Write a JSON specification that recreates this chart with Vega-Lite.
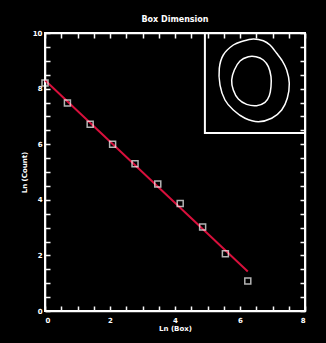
{
  "$schema": "https://vega.github.io/schema/vega-lite/v6.json",
  "width": 260,
  "height": 278,
  "autosize": {"type": "none"},
  "padding": {"left": 45, "top": 33, "right": 21, "bottom": 32},
  "background": "black",
  "title": {"text": "Box Dimension", "color": "white", "fontSize": 8, "font": "DejaVu Sans", "fontWeight": "bold", "offset": 5},
  "config": {
    "view": {"stroke": "white", "strokeWidth": 2},
    "axis": {"grid": false, "domainColor": "white", "labelColor": "white", "titleColor": "white", "labelFont": "DejaVu Sans", "titleFont": "DejaVu Sans", "labelFontSize": 7, "titleFontSize": 7, "labelFontWeight": "bold", "titleFontWeight": "bold", "domainWidth": 1.5}
  },
  "datasets": {
    "pts": [
      {"lnbox": 0, "lncount": 8.2},
      {"lnbox": 0.69, "lncount": 7.48},
      {"lnbox": 1.39, "lncount": 6.72},
      {"lnbox": 2.08, "lncount": 6.0},
      {"lnbox": 2.77, "lncount": 5.3},
      {"lnbox": 3.47, "lncount": 4.57},
      {"lnbox": 4.16, "lncount": 3.87},
      {"lnbox": 4.85, "lncount": 3.02},
      {"lnbox": 5.55, "lncount": 2.06},
      {"lnbox": 6.24, "lncount": 1.08}
    ],
    "fit": [
      {"lnbox": 0, "lncount": 8.3},
      {"lnbox": 6.24, "lncount": 1.42}
    ],
    "contours": [
      {"ring": "outer", "o": 1, "x": 5.794, "y": 9.568},
      {"ring": "outer", "o": 2, "x": 5.486, "y": 9.209},
      {"ring": "outer", "o": 3, "x": 5.363, "y": 8.73},
      {"ring": "outer", "o": 4, "x": 5.385, "y": 8.129},
      {"ring": "outer", "o": 5, "x": 5.538, "y": 7.59},
      {"ring": "outer", "o": 6, "x": 5.794, "y": 7.23},
      {"ring": "outer", "o": 7, "x": 6.154, "y": 6.932},
      {"ring": "outer", "o": 8, "x": 6.563, "y": 6.809},
      {"ring": "outer", "o": 9, "x": 6.975, "y": 6.932},
      {"ring": "outer", "o": 10, "x": 7.283, "y": 7.23},
      {"ring": "outer", "o": 11, "x": 7.455, "y": 7.651},
      {"ring": "outer", "o": 12, "x": 7.517, "y": 8.191},
      {"ring": "outer", "o": 13, "x": 7.437, "y": 8.669},
      {"ring": "outer", "o": 14, "x": 7.283, "y": 9.029},
      {"ring": "outer", "o": 15, "x": 7.129, "y": 9.27},
      {"ring": "outer", "o": 16, "x": 6.923, "y": 9.568},
      {"ring": "outer", "o": 17, "x": 6.717, "y": 9.723},
      {"ring": "outer", "o": 18, "x": 6.409, "y": 9.784},
      {"ring": "outer", "o": 19, "x": 6.102, "y": 9.712},
      {"ring": "inner", "o": 1, "x": 6.256, "y": 9.148},
      {"ring": "inner", "o": 2, "x": 6.0, "y": 8.993},
      {"ring": "inner", "o": 3, "x": 5.826, "y": 8.669},
      {"ring": "inner", "o": 4, "x": 5.744, "y": 8.309},
      {"ring": "inner", "o": 5, "x": 5.794, "y": 7.95},
      {"ring": "inner", "o": 6, "x": 5.949, "y": 7.626},
      {"ring": "inner", "o": 7, "x": 6.205, "y": 7.434},
      {"ring": "inner", "o": 8, "x": 6.513, "y": 7.386},
      {"ring": "inner", "o": 9, "x": 6.769, "y": 7.506},
      {"ring": "inner", "o": 10, "x": 6.902, "y": 7.746},
      {"ring": "inner", "o": 11, "x": 6.954, "y": 8.07},
      {"ring": "inner", "o": 12, "x": 6.954, "y": 8.429},
      {"ring": "inner", "o": 13, "x": 6.872, "y": 8.789},
      {"ring": "inner", "o": 14, "x": 6.717, "y": 9.029},
      {"ring": "inner", "o": 15, "x": 6.492, "y": 9.148}
    ],
    "inset": [
      {"x": 4.92, "x2": 8, "y": 6.4, "y2": 10}
    ]
  },
  "layer": [
    {
      "data": {"name": "fit"},
      "mark": {"type": "line", "color": "#d8103c", "strokeWidth": 2},
      "encoding": {
        "x": {"field": "lnbox", "type": "quantitative", "scale": {"domain": [0, 8], "nice": false, "zero": false},
          "axis": {"orient": "bottom", "title": "Ln (Box)", "values": [0,0.5,1,1.5,2,2.5,3,3.5,4,4.5,5,5.5,6,6.5,7,7.5,8],
            "labelExpr": "datum.value % 2 === 0 ? format(datum.value, 'd') : ''", "labelPadding": 10, "titlePadding": 1,
            "tickSize": -5, "tickColor": "#f8f8f8", "tickWidth": 1.5}},
        "y": {"field": "lncount", "type": "quantitative", "scale": {"domain": [0, 10], "nice": false, "zero": false},
          "axis": {"orient": "left", "title": "Ln (Count)", "values": [0,0.5,1,1.5,2,2.5,3,3.5,4,4.5,5,5.5,6,6.5,7,7.5,8,8.5,9,9.5,10],
            "labelExpr": "datum.value % 2 === 0 ? format(datum.value, 'd') : ''", "labelPadding": 8, "titlePadding": 5,
            "tickSize": -5, "tickColor": "#f8f8f8", "tickWidth": 1.5}}
      }
    },
    {
      "data": {"name": "pts"},
      "mark": {"type": "point", "shape": "square", "filled": false, "stroke": "white", "strokeWidth": 1.5, "size": 36},
      "encoding": {
        "x": {"field": "lnbox", "type": "quantitative",
          "axis": {"orient": "top", "title": null, "labels": false, "values": [0,0.5,1,1.5,2,2.5,3,3.5,4,4.5,5,5.5,6,6.5,7,7.5,8],
            "tickSize": -5, "tickColor": "#f8f8f8", "tickWidth": 1.5}},
        "y": {"field": "lncount", "type": "quantitative",
          "axis": {"orient": "right", "title": null, "labels": false, "values": [0,0.5,1,1.5,2,2.5,3,3.5,4,4.5,5,5.5,6,6.5,7,7.5,8,8.5,9,9.5,10],
            "tickSize": -5, "tickColor": "#f8f8f8", "tickWidth": 1.5}}
      }
    },
    {
      "data": {"name": "contours"},
      "mark": {"type": "line", "interpolate": "cardinal-closed", "color": "white", "strokeWidth": 1.5},
      "encoding": {
        "x": {"field": "x", "type": "quantitative", "axis": null},
        "y": {"field": "y", "type": "quantitative", "axis": null},
        "detail": {"field": "ring"},
        "order": {"field": "o", "type": "quantitative"}
      }
    },
    {
      "data": {"name": "inset"},
      "mark": {"type": "rect", "filled": false, "stroke": "white", "strokeWidth": 2},
      "encoding": {
        "x": {"field": "x", "type": "quantitative", "axis": null},
        "x2": {"field": "x2"},
        "y": {"field": "y", "type": "quantitative", "axis": null},
        "y2": {"field": "y2"}
      }
    }
  ],
  "resolve": {"axis": {"x": "independent", "y": "independent"}}
}
